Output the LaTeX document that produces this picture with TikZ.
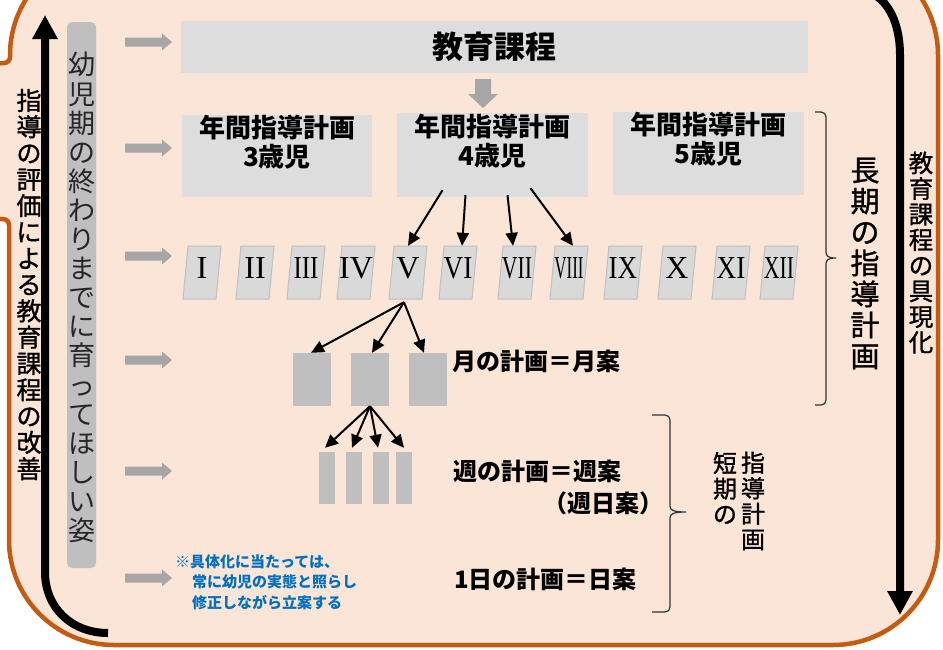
\documentclass[tikz,border=0pt]{standalone}
\usepackage{fontspec}
\usetikzlibrary{arrows.meta}
\newfontfamily\jp{Noto Sans CJK JP}
\newfontfamily\jpmed[FakeBold=1.2]{Noto Sans CJK JP}
\newfontfamily\rnfont{Liberation Serif}
\definecolor{peach}{HTML}{FBE5D6}
\definecolor{rust}{HTML}{C55A11}
\definecolor{boxgray}{HTML}{DDDDDD}
\definecolor{romgray}{HTML}{D9D9D9}
\definecolor{romedge}{HTML}{BFBFBF}
\definecolor{midgray}{HTML}{BFBFBF}
\definecolor{arrgray}{HTML}{A6A6A6}
\definecolor{noteblue}{HTML}{0070C0}
\definecolor{darktext}{HTML}{262626}
\tikzset{
  outline/.style={fill=peach, draw=rust, line width=4.5pt},
  bigarrow/.style={line width=8pt, -{Triangle[length=24pt,width=24pt]}},
  lightbox/.style={fill=boxgray, draw=none, inner sep=0pt},
  planbox/.style={fill=midgray, draw=none, inner sep=0pt},
  rombox/.style={fill=romgray, draw=romedge, line width=1pt},
  romslot/.style={inner sep=0pt, minimum width=33pt, minimum height=53pt},
  romtext/.style={inner sep=0pt, font=\rnfont\fontsize{32}{32}\selectfont},
  conn/.style={line width=2pt, -{Triangle[length=13pt,width=12pt]}},
  brace/.style={draw=black!80, line width=1.2pt},
  titletext/.style={font=\jp\bfseries\fontsize{31}{33}\selectfont},
  yeartext/.style={align=center, inner sep=0pt, font=\jp\bfseries\fontsize{26}{29}\selectfont},
  labeltext/.style={inner sep=0pt, font=\jp\bfseries\fontsize{24}{26}\selectfont},
  notetext/.style={inner sep=0pt, align=left, text=noteblue, font=\jp\bfseries\fontsize{15}{20.5}\selectfont},
  vtext/.style={align=center, inner sep=0pt},
  grayarrow/.pic={\fill[arrgray] (-23.5,-4.5) -- (13.5,-4.5) -- (13.5,-8.5) -- (23.5,0) -- (13.5,8.5) -- (13.5,4.5) -- (-23.5,4.5) -- cycle;}
}
\begin{document}
\begin{tikzpicture}[x=1pt,y=-1pt]
\useasboundingbox (0,0) rectangle (943,649);
% outer frame
\path[outline] (-20,63) -- (4,63) .. controls (7.3,63) and (10,60.3) .. (10,57)
  -- (10,55) .. controls (10,-3) and (57,-50) .. (115,-50)
  -- (833,-50) .. controls (891,-50) and (938,-3) .. (938,55)
  -- (938,540) .. controls (938,598) and (891,645) .. (833,645)
  -- (114,645) .. controls (56,645) and (9,598) .. (9,540)
  -- (9,225) .. controls (9,221.7) and (6.3,219) .. (3,219)
  -- (-20,219) -- cycle;
% big black arrows
\coordinate (lb) at (108,633);
\coordinate (lt) at (45,15);
\draw[bigarrow] (lb) .. controls (72,633) and (45,608) .. (45,572) -- (lt);
\coordinate (rt0) at (850,-12);
\coordinate (rb) at (900,615);
\draw[bigarrow] (rt0) .. controls (884,-12) and (900,18) .. (900,55) -- (rb);
% side texts
\node[vtext, font=\jpmed\fontsize{25}{26.3}\selectfont] (evaltxt) at (29,284.5)
  {指\\導\\の\\評\\価\\に\\よ\\る\\教\\育\\課\\程\\の\\改\\善};
\node[vtext, font=\jpmed\fontsize{24.5}{25.6}\selectfont] (concr) at (921,252.5)
  {教\\育\\課\\程\\の\\具\\現\\化};
% goal box
\node[fill=midgray, rounded corners=5pt, minimum width=29pt, minimum height=546pt, inner sep=0pt] (goalbox) at (81.5,295) {};
\node[vtext, text=darktext, font=\jp\fontsize{27}{29.1}\selectfont] (goal) at (81.5,297.5)
  {幼\\児\\期\\の\\終\\わ\\り\\ま\\で\\に\\育\\っ\\て\\ほ\\し\\い\\姿};
% gray arrows
\foreach \yy in {42,148,256,360,471,578} \pic at (148.5,\yy) {grayarrow};
% curriculum
\node[lightbox, titletext, minimum width=627pt, minimum height=52pt] (curr) at (494.5,47) {教育課程};
\fill[arrgray] (475,79) -- (491,79) -- (491,94) -- (498,94) -- (483,108) -- (468,94) -- (475,94) -- cycle;
% yearly plans
\node[lightbox, minimum width=190pt, minimum height=82pt] (y3) at (277,156) {};
\node[lightbox, minimum width=191pt, minimum height=84pt] (y4) at (492.5,155) {};
\node[lightbox, minimum width=191pt, minimum height=83pt] (y5) at (708.5,153.5) {};
\node[yeartext] (t3) at (277,142.5) {年間指導計画\\3歳児};
\node[yeartext] (t4) at (492.5,141) {年間指導計画\\4歳児};
\node[yeartext] (t5) at (708.5,139) {年間指導計画\\5歳児};
% periods
\foreach \t/\s/\txt [count=\i] in {188/1/I, 241/1/II, 292/0.78/III, 342/1/IV, 394/1/V, 444/0.85/VI, 503/0.68/VII, 555/0.53/VIII, 609/0.85/IX, 663/1/X, 717/0.85/XI, 765/0.68/XII} {
  \draw[rombox] (\t,246) -- (\t+33,246) -- (\t+28,299) -- (\t-5,299) -- cycle;
  \node[romslot] (r\i) at (\t+14,272.5) {};
  \node[romtext] (rt\i) at (\t+14,268.5) {\scalebox{\s}[1]{\txt}};
}
\draw[conn] ([shift={(-50,-7)}]y4.south) -- (r5.north);
\draw[conn] ([shift={(-27,-2)}]y4.south) -- ([xshift=4]r6.north);
\draw[conn] ([shift={(15,-2)}]y4.south) -- ([xshift=-4]r7.north);
\draw[conn] ([shift={(38,-9)}]y4.south) -- ([xshift=4]r8.north);
% monthly
\node[planbox, minimum width=38pt, minimum height=53pt] (m1) at (312,379.5) {};
\node[planbox, minimum width=38pt, minimum height=53pt] (m2) at (370,379.5) {};
\node[planbox, minimum width=38pt, minimum height=53pt] (m3) at (428,379.5) {};
\coordinate (vb) at ([shift={(-4,3)}]r5.south);
\draw[conn] (vb) -- ([xshift=-1]m1.north);
\draw[conn] (vb) -- ([xshift=2]m2.north);
\draw[conn] (vb) -- ([xshift=-4]m3.north);
% weekly
\node[planbox, minimum width=16pt, minimum height=52pt] (w1) at (327,478) {};
\node[planbox, minimum width=16pt, minimum height=52pt] (w2) at (354,478) {};
\node[planbox, minimum width=16pt, minimum height=52pt] (w3) at (381,478) {};
\node[planbox, minimum width=16pt, minimum height=52pt] (w4) at (404,478) {};
\draw[conn] (m2.south) -- ([shift={(-2,-4)}]w1.north);
\draw[conn] (m2.south) -- ([shift={(-2,-4)}]w2.north);
\draw[conn] (m2.south) -- ([shift={(-3,-4)}]w3.north);
\draw[conn] (m2.south) -- ([shift={(0,-4)}]w4.north);
% labels
\node[labeltext, anchor=west] (mtxt) at (452,361) {月の計画＝月案};
\node[labeltext, anchor=west] (wtxt) at (453,471) {週の計画＝週案};
\node[labeltext, anchor=west] (wdtxt) at (543,503) {（週日案）};
\node[labeltext, anchor=west] (dtxt) at (454,579) {1日の計画＝日案};
\node[notetext, anchor=west] (note) at (175,582)
  {※具体化に当たっては、\\\hspace*{17pt}常に幼児の実態と照らし\\\hspace*{17pt}修正しながら立案する};
% braces
\draw[brace] (815,112) -- (821,112) .. controls (824,112) and (826,114) .. (826,117)
  -- (826,252) .. controls (826,256) and (828,258) .. (836,258)
  .. controls (828,258) and (826,260) .. (826,264)
  -- (826,400) .. controls (826,403) and (824,405) .. (821,405) -- (815,405);
\draw[brace] (652,415) -- (665,415) .. controls (668,415) and (670,417) .. (670,420)
  -- (670,506) .. controls (670,510) and (673,512) .. (686,512)
  .. controls (673,512) and (670,514) .. (670,518)
  -- (670,607) .. controls (670,610) and (668,612) .. (665,612) -- (652,612);
\node[vtext, font=\jpmed\fontsize{29}{31}\selectfont] (longtxt) at (865,263.5)
  {長\\期\\の\\指\\導\\計\\画};
\node[vtext, font=\jpmed\fontsize{24}{25.5}\selectfont] (shorta) at (725,488)
  {短\\期\\の};
\node[vtext, font=\jpmed\fontsize{24}{25.5}\selectfont] (shortb) at (753,501)
  {指\\導\\計\\画};
\end{tikzpicture}
\end{document}
